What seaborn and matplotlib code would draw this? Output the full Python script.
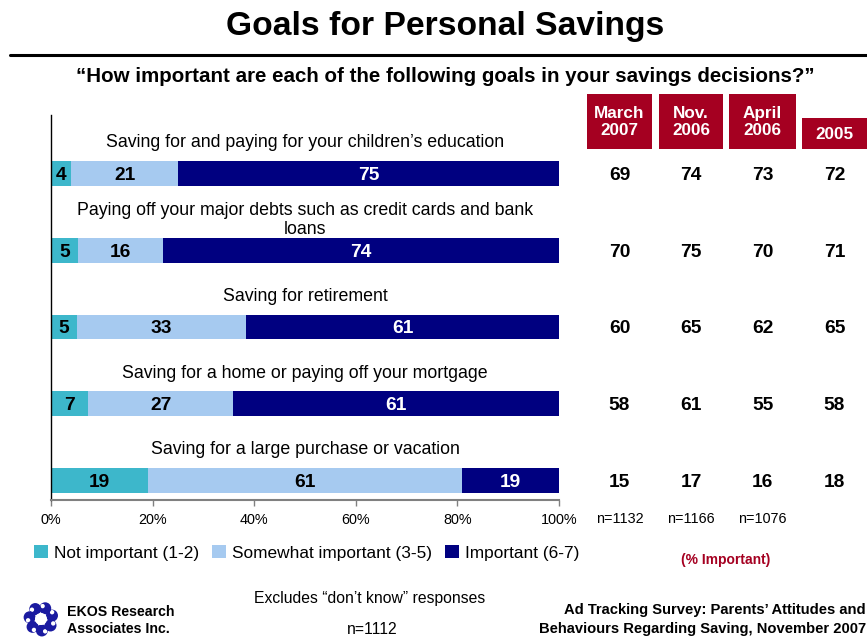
import math
import matplotlib
matplotlib.use("Agg")
import matplotlib.pyplot as plt
from matplotlib import font_manager
from matplotlib.patches import Rectangle, Circle, Patch
from matplotlib.lines import Line2D
from matplotlib.transforms import blended_transform_factory
import pandas as pd
import seaborn as sns

# ---- data -----------------------------------------------------------------
goals = [
    "Saving for and paying for your children\u2019s education",
    "Paying off your major debts such as credit cards and bank\nloans",
    "Saving for retirement",
    "Saving for a home or paying off your mortgage",
    "Saving for a large purchase or vacation",
]
not_important = [4, 5, 5, 7, 19]
somewhat_important = [21, 16, 33, 27, 61]
important = [75, 74, 61, 61, 19]

waves = ["March\n2007", "Nov.\n2006", "April\n2006", "2005"]
pct_important_mar07 = [69, 70, 60, 58, 15]
pct_important_nov06 = [74, 75, 65, 61, 17]
pct_important_apr06 = [73, 70, 62, 55, 16]
pct_important_2005 = [72, 71, 65, 58, 18]
wave_sizes = ["n=1132", "n=1166", "n=1076", ""]

x_ticks = [0, 20, 40, 60, 80, 100]
x_tick_labels = ["0%", "20%", "40%", "60%", "80%", "100%"]
legend_labels = ["Not important (1-2)", "Somewhat important (3-5)", "Important (6-7)"]

TEAL = "#3DB7CB"
LIGHT = "#A6CAF0"
NAVY = "#000080"
RED = "#A50021"
LOGO_BLUE = "#1A1AA0"

# ---- fonts ------------------------------------------------------------------
sns.set_theme(style="white")
installed = {f.name for f in font_manager.fontManager.ttflist}
if "Liberation Sans Narrow" in installed:
    NARROW, NSCALE = "Liberation Sans Narrow", 1.0
else:
    # regular face shrunk so the line widths stay the same
    NARROW, NSCALE = "Liberation Sans", 0.82
REG = "Liberation Sans"
plt.rcParams["font.family"] = [REG, "DejaVu Sans"]
plt.rcParams["text.color"] = "black"
plt.rcParams["xtick.color"] = "black"
plt.rcParams["xtick.labelcolor"] = "black"


def nsize(s):
    return s * NSCALE


W, H = 867, 638
fig = plt.figure(figsize=(W / 100, H / 100), dpi=100)
fig.patch.set_facecolor("white")


def fx(x):
    return x / W


def fy(y):
    return 1 - y / H


# ---- stacked bars -----------------------------------------------------------
ax_left, ax_right, ax_top, ax_bottom = 51, 559, 115, 499.5
ax = fig.add_axes([fx(ax_left), fy(ax_bottom), (ax_right - ax_left) / W,
                   (ax_bottom - ax_top) / H])

df = pd.DataFrame({
    "goal": goals,
    "not": not_important,
    "some": somewhat_important,
    "imp": important,
})
parts = ["not", "some", "imp"]
colors = [TEAL, LIGHT, NAVY]
totals = df[parts].sum(axis=1)
share = df[parts].div(totals, axis=0) * 100  # "don't know" excluded
ends = share.cumsum(axis=1)

for col, color in reversed(list(zip(parts, colors))):
    sns.barplot(x=ends[col], y=df["goal"], order=goals, orient="h",
                color=color, saturation=1, width=0.32, linewidth=0, ax=ax)

ax.set_xlim(0, 100)
ax.set_ylim(4.248, -0.762)
ax.set_xlabel("")
ax.set_ylabel("")
ax.set_yticks([])
ax.set_xticks(x_ticks)
ax.set_xticklabels(x_tick_labels, fontsize=10.4, color="black")
ax.tick_params(axis="x", direction="out", length=4, width=1, color="#808080",
               pad=6, bottom=True)
for s in ["top", "right"]:
    ax.spines[s].set_visible(False)
ax.spines["left"].set_color("black")
ax.spines["left"].set_linewidth(1)
ax.spines["bottom"].set_color("#808080")
ax.spines["bottom"].set_linewidth(1.5)

# segment values and category labels
for i in range(len(goals)):
    start = 0
    for j, col in enumerate(parts):
        w = share.loc[i, col]
        ax.text(start + w / 2, i, f"{df.loc[i, col]}", ha="center",
                va="center_baseline", fontsize=13.8, fontweight="bold",
                color="white" if col == "imp" else "black")
        start += w
    ax.text(50, i - 0.40, goals[i], ha="center", va="center", fontsize=12.8,
            color="black", linespacing=1.15)

# ---- right-hand trend columns -------------------------------------------------
col_centers = [619.5, 691, 762.5, 834.5]
col_values = [pct_important_mar07, pct_important_nov06, pct_important_apr06,
              pct_important_2005]
box_edges = [(587, 652), (659, 723), (729, 796), (802, 867)]
box_tops = [94, 94, 94, 118]
box_bottom = 148.5
trans = blended_transform_factory(fig.transFigure, ax.transData)

for k, (label, vals) in enumerate(zip(waves, col_values)):
    x0, x1 = box_edges[k]
    fig.add_artist(Rectangle((fx(x0), fy(box_bottom)), (x1 - x0) / W,
                             (box_bottom - box_tops[k]) / H,
                             transform=fig.transFigure, facecolor=RED,
                             edgecolor="none"))
    fig.text(fx(col_centers[k]), fy((box_tops[k] + box_bottom) / 2 + 1), label,
             ha="center", va="center", color="white", fontweight="bold",
             fontsize=12.3, linespacing=1.2)
    for i, v in enumerate(vals):
        ax.text(fx(col_centers[k]), i, f"{v}", transform=trans, ha="center",
                va="center_baseline", fontsize=13.8, fontweight="bold",
                color="black")
    if wave_sizes[k]:
        fig.text(fx(col_centers[k]), fy(519), wave_sizes[k], ha="center",
                 va="center", fontsize=10.4)

# ---- titles -----------------------------------------------------------------
fig.text(fx(445), fy(27), "Goals for Personal Savings", ha="center",
         va="center", fontfamily=NARROW, fontweight="bold",
         fontsize=nsize(29.5), color="black")
fig.add_artist(Line2D([fx(10), 1.0], [fy(55), fy(55)], color="black", lw=2.2,
                      transform=fig.transFigure))
fig.text(fx(445), fy(76),
         "\u201cHow important are each of the following goals in your savings decisions?\u201d",
         ha="center", va="center", fontfamily=NARROW, fontweight="bold",
         fontsize=nsize(18), color="black")

# ---- legend -----------------------------------------------------------------
handles = [Patch(facecolor=c, edgecolor="none") for c in colors]
leg = fig.legend(handles, legend_labels, loc="center left",
                 bbox_to_anchor=(fx(34), fy(553)), ncol=3, frameon=False,
                 prop={"family": NARROW, "size": nsize(15.2)},
                 handlelength=0.8, handleheight=0.8, handletextpad=0.35,
                 columnspacing=0.75, borderpad=0, borderaxespad=0)
for t in leg.get_texts():
    t.set_color("black")

fig.text(fx(726), fy(560), "(% Important)", ha="center", va="center",
         color=RED, fontweight="bold", fontsize=10)

# ---- footer -----------------------------------------------------------------
fig.text(fx(370), fy(599), "Excludes \u201cdon\u2019t know\u201d responses",
         ha="center", va="center", fontfamily=NARROW, fontsize=nsize(13.8))
fig.text(fx(372), fy(630), "n=1112", ha="center", va="center",
         fontfamily=NARROW, fontsize=nsize(13.8))
fig.text(fx(866), fy(610), "Ad Tracking Survey: Parents\u2019 Attitudes and",
         ha="right", va="center", fontweight="bold", fontsize=10.6)
fig.text(fx(866), fy(629), "Behaviours Regarding Saving, November 2007",
         ha="right", va="center", fontweight="bold", fontsize=10.6)
fig.text(fx(67), fy(612), "EKOS Research", ha="left", va="center",
         fontweight="bold", fontsize=10.2)
fig.text(fx(67), fy(629), "Associates Inc.", ha="left", va="center",
         fontweight="bold", fontsize=10.2)

# company mark: a ring of curled blobs
cx, cy = 41 / 100, (H - 619) / 100
for k in range(7):
    a = 2 * math.pi * k / 7 + 0.3
    bx, by = cx + 0.115 * math.cos(a), cy + 0.115 * math.sin(a)
    fig.add_artist(Circle((bx, by), 0.06, transform=fig.dpi_scale_trans,
                          facecolor=LOGO_BLUE, edgecolor="none"))
    ix, iy = cx + 0.13 * math.cos(a + 0.25), cy + 0.13 * math.sin(a + 0.25)
    fig.add_artist(Circle((ix, iy), 0.022, transform=fig.dpi_scale_trans,
                          facecolor="white", edgecolor="none"))
fig.add_artist(Circle((cx, cy), 0.06, transform=fig.dpi_scale_trans,
                      facecolor="white", edgecolor="none"))

fig.savefig("out.png", dpi=100, facecolor="white")
